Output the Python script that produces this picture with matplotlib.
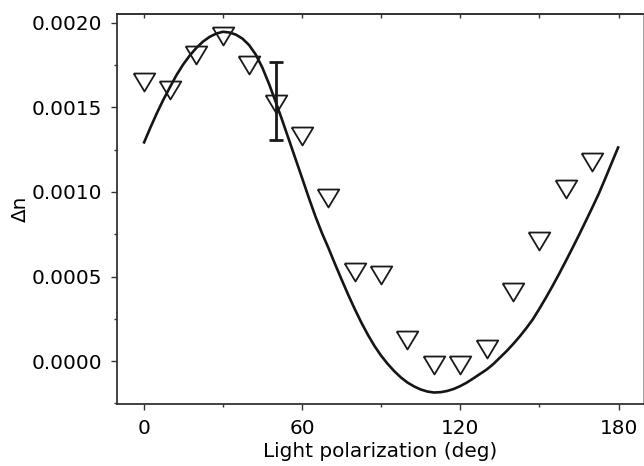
import matplotlib.pyplot as plt
import numpy as np
from matplotlib.ticker import FormatStrFormatter, MultipleLocator

# measured birefringence (open triangles)
angle = [0, 10, 20, 30, 40, 50, 60, 70, 80, 90, 100, 110, 120, 130, 140, 150, 160, 170]
dn = [0.001652, 0.001601, 0.001812, 0.001924, 0.001753, 0.001520, 0.001333, 0.000967,
      0.000524, 0.000506, 0.000127, -0.000021, -0.000021, 0.000070, 0.000411, 0.000709,
      0.001020, 0.001179]

# single representative error bar
err_angle = [50]
err_low = [0.001310]
err_high = [0.001769]

# fitted curve (every 2.5 deg), units of 1e-3
fit_angle = [0, 2.5, 5, 7.5, 10, 12.5, 15, 17.5, 20, 22.5, 25, 27.5, 30, 32.5, 35, 37.5,
             40, 42.5, 45, 47.5, 50, 52.5, 55, 57.5, 60, 62.5, 65, 67.5, 70, 72.5, 75,
             77.5, 80, 82.5, 85, 87.5, 90, 92.5, 95, 97.5, 100, 102.5, 105, 107.5, 110,
             112.5, 115, 117.5, 120, 122.5, 125, 127.5, 130, 132.5, 135, 137.5, 140,
             142.5, 145, 147.5, 150, 152.5, 155, 157.5, 160, 162.5, 165, 167.5, 170,
             172.5, 175, 177.5, 180]
fit_dn_e3 = [1.286, 1.378, 1.465, 1.546, 1.620, 1.692, 1.754, 1.807, 1.852, 1.889, 1.917,
             1.936, 1.947, 1.943, 1.930, 1.906, 1.868, 1.812, 1.735, 1.640, 1.535, 1.425,
             1.312, 1.198, 1.085, 0.970, 0.860, 0.760, 0.670, 0.575, 0.483, 0.393, 0.308,
             0.228, 0.155, 0.089, 0.032, -0.017, -0.060, -0.097, -0.127, -0.150, -0.168,
             -0.180, -0.186, -0.184, -0.177, -0.165, -0.148, -0.127, -0.102, -0.076,
             -0.050, -0.018, 0.020, 0.058, 0.100, 0.145, 0.194, 0.247, 0.310, 0.376,
             0.445, 0.517, 0.592, 0.668, 0.746, 0.826, 0.907, 0.990, 1.082, 1.176, 1.270]
fit_dn = np.array(fit_dn_e3) * 1e-3

plt.rcParams['font.family'] = ['DejaVu Sans']
plt.rcParams['font.size'] = 14.4

fig = plt.figure(figsize=(6.44, 4.66), dpi=100)
ax = fig.add_axes([0.1812, 0.1330, 0.8183, 0.8369])

ax.plot(fit_angle, fit_dn, color='#151515', lw=1.9, zorder=2,
        solid_joinstyle='round', solid_capstyle='butt')

tri = [(-1.2, 1.0), (1.2, 1.0), (0.0, -1.0), (-1.2, 1.0)]
ax.plot(angle, dn, linestyle='none', marker=tri, markersize=15.5,
        markerfacecolor='none', markeredgecolor='#1a1a1a', markeredgewidth=1.3, zorder=3)

i = angle.index(err_angle[0])
yerr = [[dn[i] - err_low[0]], [err_high[0] - dn[i]]]
ax.errorbar(err_angle, [dn[i]], yerr=yerr, fmt='none', ecolor='#1a1a1a',
            elinewidth=2.0, capsize=5, capthick=2.0, zorder=3)

ax.set_xlim(-10.2, 189.5)
ax.set_ylim(-0.000254, 0.002052)

ax.xaxis.set_major_locator(MultipleLocator(60))
ax.xaxis.set_minor_locator(MultipleLocator(30))
ax.yaxis.set_major_locator(MultipleLocator(0.0005))
ax.yaxis.set_minor_locator(MultipleLocator(0.00025))
ax.yaxis.set_major_formatter(FormatStrFormatter('%.4f'))

ax.tick_params(which='major', direction='out', length=4.5, width=1.0, color='#333333', pad=6)
ax.tick_params(which='minor', direction='out', length=2.4, width=1.0, color='#333333')
ax.tick_params(axis='x', which='major', pad=6.5)
ax.tick_params(top=False, right=False, which='both')

top = ax.secondary_xaxis('top')
top.set_xticks(np.arange(0, 181, 30))
top.tick_params(direction='in', length=3, width=1.0, labeltop=False, color='#333333')
top.spines['top'].set_linewidth(1.2)
top.spines['top'].set_color('#333333')

for name, sp in ax.spines.items():
    sp.set_linewidth(1.3)
    sp.set_color('#333333')
ax.spines['right'].set_color('#999999')

ax.set_xlabel('Light polarization (deg)', labelpad=2.5)
ax.set_ylabel('Δn', labelpad=1.5)

fig.savefig('out.png', dpi=100)
